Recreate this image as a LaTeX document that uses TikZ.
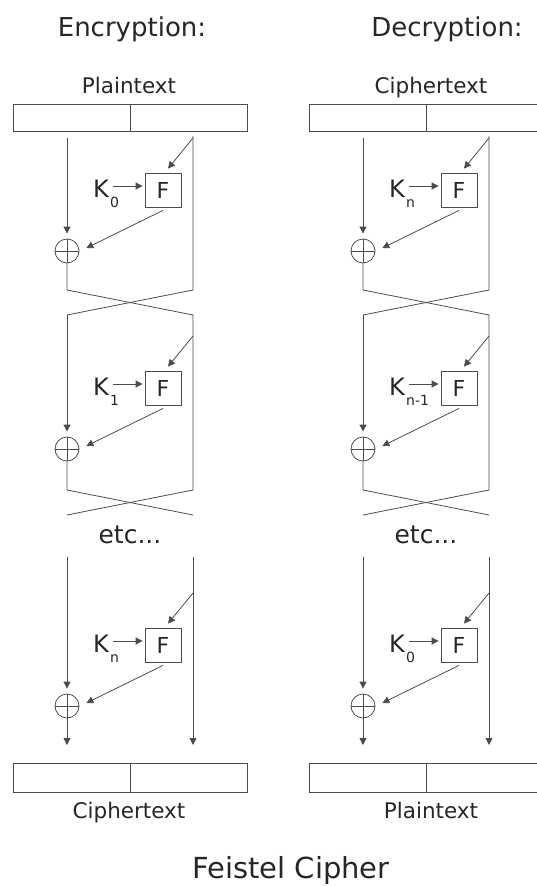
\documentclass[tikz,border=0pt]{standalone}
\usepackage{fontspec}
\setmainfont{DejaVu Sans}
\usetikzlibrary{arrows.meta,calc}
\tikzset{
 ln/.style={draw=black!70, line width=0.8pt},
 arr/.style={ln, -{Triangle[length=7pt,width=7pt]}},
 fbox/.style={draw=black!70, line width=0.8pt, minimum width=36pt, minimum height=34pt, inner sep=0pt, text=black!85, font=\fontsize{22}{22}\selectfont},
 xorc/.style={circle, draw=black!70, line width=0.8pt, minimum size=24pt, inner sep=0pt},
 half/.style={draw=black!70, line width=0.8pt, minimum width=117pt, inner sep=0pt},
 lab/.style={anchor=base, inner sep=0pt, text=black!85, font=\fontsize{21.5}{24}\selectfont},
 titl/.style={anchor=base, inner sep=0pt, text=black!85, font=\fontsize{26}{28}\selectfont},
 bigt/.style={anchor=base, inner sep=0pt, text=black!85, font=\fontsize{29}{31}\selectfont},
 etct/.style={anchor=base, inner sep=0pt, text=black!85, font=\fontsize{25}{27}\selectfont},
 klab/.style={anchor=base west, inner sep=0pt, text=black!85, font=\fontsize{24}{24}\selectfont},
 ksub/.style={anchor=base west, inner sep=0pt, text=black!85, font=\fontsize{14}{14}\selectfont},
}
\newcommand\fround[4]{%
 \node[fbox] (F#1) at ({163+#2},{#3}) {F};
 \node[xorc] (X#1) at ({67+#2},{#3+61}) {};
 \draw[ln] (X#1.north) -- (X#1.south) (X#1.west) -- (X#1.east);
 \node[klab] (K#1) at ({93+#2},{#3+7}) {K};
 \node[ksub] (S#1) at ({110+#2},{#3+17}) {#4};
 \coordinate (KA#1) at ({113+#2},{#3-4});
 \draw[arr] (KA#1) -- ([xshift=-2pt]KA#1 -| F#1.west);
 \coordinate (IN#1) at ({193+#2},{#3-52});
 \draw[arr] (IN#1) -- ([xshift=5pt,yshift=4pt]F#1.north);
 \draw[arr] ([yshift=-3pt]F#1.south) -- ([xshift=7pt,yshift=3pt]X#1.east);
}
\begin{document}
\begin{tikzpicture}[x=1pt,y=-1pt]
\useasboundingbox (0,0) rectangle (537,886);
\clip (0,0) rectangle (537,886);
\node[titl] (tE) at (132,36) {Encryption:};
\node[titl] (tD) at (447,36) {Decryption:};
\node[bigt] (fc) at (291,878) {Feistel Cipher};
\foreach \c/\dx/\xl/\toplab/\botlab/\ka/\kb/\kc in {e/0/129/Plaintext/Ciphertext/0/1/n, d/296/431/Ciphertext/Plaintext/n/n-1/0} {
  \node[lab] (top\c) at (\xl,93) {\toplab};
  \node[half, minimum height=27pt] (tl\c) at (71.5+\dx,117.5) {};
  \node[half, minimum height=27pt] (tr\c) at (188.5+\dx,117.5) {};
  \fround{\c1}{\dx}{190}{\ka}
  \fround{\c2}{\dx}{388}{\kb}
  \fround{\c3}{\dx}{645}{\kc}
  \coordinate (Ra\c) at (193+\dx,136);
  \coordinate (La\c) at (67+\dx,138);
  \coordinate (Lb\c) at (67+\dx,290);  \coordinate (Rb\c) at (193+\dx,290);
  \coordinate (Lc\c) at (67+\dx,315);  \coordinate (Rc\c) at (193+\dx,315);
  \coordinate (Ld\c) at (67+\dx,490);  \coordinate (Rd\c) at (193+\dx,490);
  \coordinate (Le\c) at (67+\dx,515);  \coordinate (Re\c) at (193+\dx,515);
  \coordinate (Lf\c) at (67+\dx,557);  \coordinate (Rf\c) at (193+\dx,557);
  \coordinate (Lg\c) at (67+\dx,745);  \coordinate (Rg\c) at (193+\dx,745);
  \draw[arr] (La\c) -- ([yshift=5pt]X\c1.north);
  \draw[ln] (Ra\c) -- (Rb\c) -- (Lc\c);
  \draw[arr] (Lc\c) -- ([yshift=5pt]X\c2.north);
  \draw[ln] (X\c1.south) -- (Lb\c) -- (Rc\c) -- (Rd\c) -- (Le\c);
  \draw[ln] (X\c2.south) -- (Ld\c) -- (Re\c);
  \node[etct] (etc\c) at (130+\dx,543) {etc...};
  \draw[arr] (Lf\c) -- ([yshift=5pt]X\c3.north);
  \draw[arr] (X\c3.south) -- (Lg\c);
  \draw[arr] (Rf\c) -- (Rg\c);
  \node[half, minimum height=29pt] (bl\c) at (71.5+\dx,777.5) {};
  \node[half, minimum height=29pt] (br\c) at (188.5+\dx,777.5) {};
  \node[lab] (bot\c) at (\xl,818) {\botlab};
}
\end{tikzpicture}
\end{document}
